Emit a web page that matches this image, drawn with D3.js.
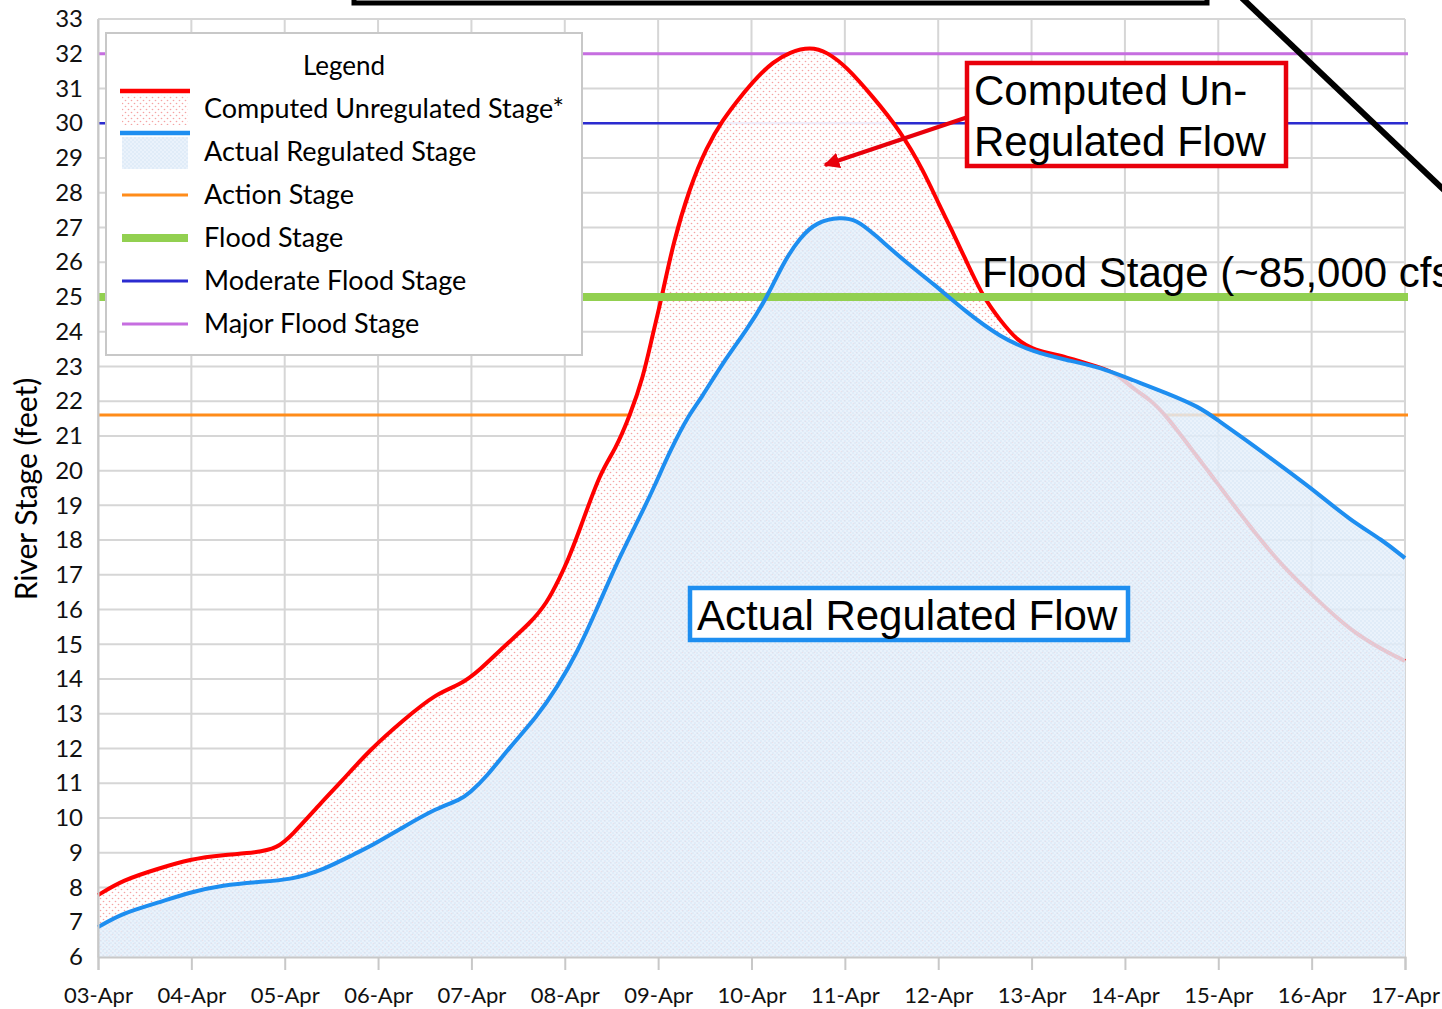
<!DOCTYPE html>
<html>
<head>
<meta charset="utf-8">
<script src="https://cdn.jsdelivr.net/npm/d3@7"></script>
<style>
  body { margin: 0; background: #fff; }
  svg { display: block; }
  .tick text { font-family: Lato, sans-serif; fill: #111; }
</style>
</head>
<body>
<script>

var width = 1442;
var height = 1009;

// x axis categories (days since 03-Apr)
var dayLabels = ['03-Apr', '04-Apr', '05-Apr', '06-Apr', '07-Apr', '08-Apr', '09-Apr',
  '10-Apr', '11-Apr', '12-Apr', '13-Apr', '14-Apr', '15-Apr', '16-Apr', '17-Apr'];

// computed unregulated stage (feet)
var unregDays = [0.00, 0.27, 0.63, 0.99, 1.34, 1.70, 1.92, 2.06, 2.41, 2.59, 2.91, 3.27, 3.63, 3.88,
  4.09, 4.34, 4.63, 4.81, 4.95, 5.03, 5.16, 5.38, 5.54, 5.70, 5.84, 5.94, 6.04, 6.16, 6.34, 6.52,
  6.69, 6.88, 7.06, 7.23, 7.41, 7.63, 7.81, 8.02, 8.30, 8.59, 8.84, 9.02, 9.13, 9.31, 9.48, 9.66,
  9.84, 10.02, 10.38, 10.73, 10.91, 11.09, 11.27, 11.45, 11.62, 11.99, 12.34, 12.69, 13.06, 13.41,
  13.76, 14.00];
var unregStage = [7.78, 8.22, 8.53, 8.82, 8.94, 9.00, 9.14, 9.45, 10.5, 11.0, 11.96, 12.82, 13.6, 13.83,
  14.26, 14.92, 15.61, 16.19, 16.94, 17.4, 18.29, 19.96, 20.59, 21.6, 22.69, 23.9, 25.0, 26.55, 28.16, 29.32,
  30.09, 30.76, 31.33, 31.76, 32.05, 32.2, 32.05, 31.62, 30.76, 29.8, 28.65, 27.59, 27.01, 25.98, 25.0, 24.34,
  23.76, 23.47, 23.27, 22.97, 22.8, 22.35, 22.05, 21.55, 20.95, 19.64, 18.38, 17.23, 16.28, 15.41,
  14.84, 14.52];

// actual regulated stage (feet)
var regDays = [0.00, 0.27, 0.63, 0.99, 1.34, 1.70, 2.06, 2.41, 2.77, 2.91, 3.27, 3.63, 3.88, 3.98,
  4.16, 4.41, 4.70, 4.92, 5.13, 5.34, 5.57, 5.81, 5.97, 6.13, 6.34, 6.45, 6.69, 6.95, 7.17, 7.34,
  7.52, 7.70, 7.95, 8.13, 8.30, 8.66, 8.94, 9.31, 9.66, 10.02, 10.38, 10.73, 11.09, 11.45, 11.80,
  11.99, 12.34, 12.69, 13.06, 13.41, 13.76, 14.00];
var regStage = [6.86, 7.27, 7.55, 7.87, 8.07, 8.16, 8.22, 8.50, 9.00, 9.17, 9.74, 10.29, 10.52, 10.72,
  11.18, 12.04, 12.91, 13.77, 14.75, 15.99, 17.43, 18.7, 19.6, 20.59, 21.66, 22.03, 23.1, 24.05, 25.0, 25.98,
  26.72, 27.16, 27.3, 27.21, 26.84, 25.98, 25.4, 24.54, 23.85, 23.41, 23.18, 22.98, 22.6, 22.23, 21.83,
  21.46, 20.8, 20.1, 19.36, 18.58, 18.0, 17.48];

// stage thresholds
var stageNames = ['Action Stage', 'Flood Stage', 'Moderate Flood Stage', 'Major Flood Stage'];
var stageValues = [21.6, 25, 30, 32];
var stageColors = ['#ff8c1a', '#92d050', '#2b2bd0', '#c66ee0'];
var stageWidths = [3, 8, 2.5, 3];

var svg = d3.select('body').append('svg')
  .attr('width', width)
  .attr('height', height);

var x = d3.scaleLinear().domain([0, dayLabels.length - 1]).range([98, 1405]);
var y = d3.scaleLinear().domain([6, 33]).range([957, 19]);

var defs = svg.append('defs');

// dotted pink fill for unregulated area
var redPat = defs.append('pattern')
  .attr('id', 'redDots')
  .attr('patternUnits', 'userSpaceOnUse')
  .attr('width', 6).attr('height', 6);
redPat.append('rect').attr('width', 6).attr('height', 6).attr('fill', '#fff').attr('fill-opacity', 0.93);
redPat.append('circle').attr('cx', 1.5).attr('cy', 1.5).attr('r', 0.8).attr('fill', '#f5a3a3');
redPat.append('circle').attr('cx', 4.5).attr('cy', 4.5).attr('r', 0.8).attr('fill', '#f5a3a3');

// dotted light blue fill for regulated area
var bluePat = defs.append('pattern')
  .attr('id', 'blueDots')
  .attr('patternUnits', 'userSpaceOnUse')
  .attr('width', 4).attr('height', 4);
bluePat.append('rect').attr('width', 4).attr('height', 4).attr('fill', '#e5effa').attr('fill-opacity', 0.82);
bluePat.append('circle').attr('cx', 1).attr('cy', 1).attr('r', 0.7).attr('fill', '#c9dcf0').attr('fill-opacity', 0.8);
bluePat.append('circle').attr('cx', 3).attr('cy', 3).attr('r', 0.7).attr('fill', '#c9dcf0').attr('fill-opacity', 0.8);

defs.append('marker')
  .attr('id', 'arrow')
  .attr('viewBox', '0 0 10 10')
  .attr('refX', 9).attr('refY', 5)
  .attr('markerWidth', 4).attr('markerHeight', 4)
  .attr('orient', 'auto')
  .append('path')
  .attr('d', 'M0,0L10,5L0,10Z')
  .attr('fill', '#e8000b');

// grid
var grid = svg.append('g');
grid.selectAll('.hg')
  .data(d3.range(6, 34))
  .enter().append('line')
  .attr('x1', x(0)).attr('x2', x(14))
  .attr('y1', function (d) { return y(d); })
  .attr('y2', function (d) { return y(d); })
  .style('stroke', '#d6d6d6').style('stroke-width', 2);
grid.selectAll('.vg')
  .data(d3.range(0, 15))
  .enter().append('line')
  .attr('x1', function (d) { return x(d); })
  .attr('x2', function (d) { return x(d); })
  .attr('y1', y(33)).attr('y2', y(6))
  .style('stroke', '#d6d6d6').style('stroke-width', 2);

// threshold lines other than flood stage sit under the fills
var refs = svg.append('g');
[0, 2, 3].forEach(function (i) {
  refs.append('line')
    .attr('x1', x(0)).attr('x2', x(14) + 3)
    .attr('y1', y(stageValues[i])).attr('y2', y(stageValues[i]))
    .style('stroke', stageColors[i])
    .style('stroke-width', stageWidths[i]);
});

var unreg = unregDays.map(function (d, i) { return [d, unregStage[i]]; });
var reg = regDays.map(function (d, i) { return [d, regStage[i]]; });

var area = d3.area()
  .curve(d3.curveBasis)
  .x(function (d) { return x(d[0]); })
  .y0(y(6))
  .y1(function (d) { return y(d[1]); });
var line = d3.line()
  .curve(d3.curveBasis)
  .x(function (d) { return x(d[0]); })
  .y(function (d) { return y(d[1]); });

svg.append('path').datum(unreg).attr('d', area).style('fill', 'url(#redDots)');
svg.append('path').datum(unreg).attr('d', line)
  .style('fill', 'none').style('stroke', '#ff0000').style('stroke-width', 4);
svg.append('path').datum(reg).attr('d', area).style('fill', 'url(#blueDots)');

// flood stage
svg.append('line')
  .attr('x1', x(0)).attr('x2', x(14) + 3)
  .attr('y1', y(stageValues[1])).attr('y2', y(stageValues[1]))
  .style('stroke', stageColors[1])
  .style('stroke-width', stageWidths[1]);

svg.append('path').datum(reg).attr('d', line)
  .style('fill', 'none').style('stroke', '#1e8ef0').style('stroke-width', 4);

// axes
var xAxis = svg.append('g')
  .attr('transform', 'translate(0,' + y(6) + ')')
  .call(d3.axisBottom(x)
    .tickValues(d3.range(0, 15))
    .tickFormat(function (d) { return dayLabels[d]; })
    .tickSize(13)
    .tickPadding(17));
xAxis.selectAll('.tick text').style('font-size', '22px');

var yAxis = svg.append('g')
  .attr('transform', 'translate(' + x(0) + ',0)')
  .call(d3.axisLeft(y)
    .tickValues(d3.range(6, 34))
    .tickFormat(d3.format('d'))
    .tickSize(0)
    .tickPadding(15));
yAxis.selectAll('.tick text').style('font-size', '24px');
svg.selectAll('.domain, .tick line').style('stroke', '#c8c8c8').style('stroke-width', 2);

svg.append('text')
  .attr('transform', 'translate(37,489) rotate(-90)')
  .attr('text-anchor', 'middle')
  .style('font-family', 'Lato, sans-serif')
  .style('font-size', '30px')
  .text('River Stage (feet)');

// legend
var lg = svg.append('g').attr('transform', 'translate(106,33)');
lg.append('rect')
  .attr('width', 476).attr('height', 322)
  .style('fill', '#fff').style('stroke', '#c8c8c8').style('stroke-width', 2);
lg.append('text')
  .attr('x', 238).attr('y', 42)
  .attr('text-anchor', 'middle')
  .style('font-family', 'Lato, sans-serif').style('font-size', '26px')
  .text('Legend');

var legendNames = ['Computed Unregulated Stage*', 'Actual Regulated Stage'].concat(stageNames);
var rowY = d3.scaleLinear().domain([0, 5]).range([76, 291]);
lg.selectAll('.lt')
  .data(legendNames)
  .enter().append('text')
  .attr('x', 98)
  .attr('y', function (d, i) { return rowY(i) + 9; })
  .style('font-family', 'Lato, sans-serif').style('font-size', '27px')
  .text(function (d) { return d; });

lg.append('rect').attr('x', 16).attr('y', 62).attr('width', 66).attr('height', 30).style('fill', 'url(#redDots)');
lg.append('line').attr('x1', 14).attr('x2', 84).attr('y1', 58).attr('y2', 58)
  .style('stroke', '#ff0000').style('stroke-width', 4.5);
lg.append('rect').attr('x', 16).attr('y', 104).attr('width', 66).attr('height', 32).style('fill', 'url(#blueDots)');
lg.append('line').attr('x1', 14).attr('x2', 84).attr('y1', 100).attr('y2', 100)
  .style('stroke', '#1e8ef0').style('stroke-width', 4.5);
stageNames.forEach(function (s, i) {
  lg.append('line')
    .attr('x1', 16).attr('x2', 82)
    .attr('y1', rowY(i + 2)).attr('y2', rowY(i + 2))
    .style('stroke', stageColors[i])
    .style('stroke-width', i == 1 ? 8 : 3);
});

// annotations
var ann = svg.append('g').style('font-family', 'Liberation Sans, Arial, sans-serif').style('font-size', '42px');

ann.append('line')
  .attr('x1', 968).attr('y1', 117).attr('x2', 825).attr('y2', 165)
  .style('stroke', '#e8000b').style('stroke-width', 4)
  .attr('marker-end', 'url(#arrow)');
ann.append('rect')
  .attr('x', 967).attr('y', 63).attr('width', 319).attr('height', 103)
  .style('fill', '#fff').style('stroke', '#e8000b').style('stroke-width', 4.5);
ann.append('text').attr('x', 974).attr('y', 105).text('Computed Un-');
ann.append('text').attr('x', 974).attr('y', 156).text('Regulated Flow');

ann.append('text').attr('x', 982).attr('y', 287).text('Flood Stage (~85,000 cfs)');

ann.append('rect')
  .attr('x', 690).attr('y', 588).attr('width', 438).attr('height', 52)
  .style('fill', '#fff').style('stroke', '#1e8ef0').style('stroke-width', 4.5);
ann.append('text').attr('x', 697).attr('y', 630).text('Actual Regulated Flow');

// black callout pieces at the top edge
svg.append('rect')
  .attr('x', 354).attr('y', -30).attr('width', 853).attr('height', 33)
  .style('fill', 'none').style('stroke', '#000').style('stroke-width', 5);
svg.append('line')
  .attr('x1', 1242).attr('y1', -2).attr('x2', 1446).attr('y2', 192)
  .style('stroke', '#000').style('stroke-width', 6);

</script>
</body>
</html>
